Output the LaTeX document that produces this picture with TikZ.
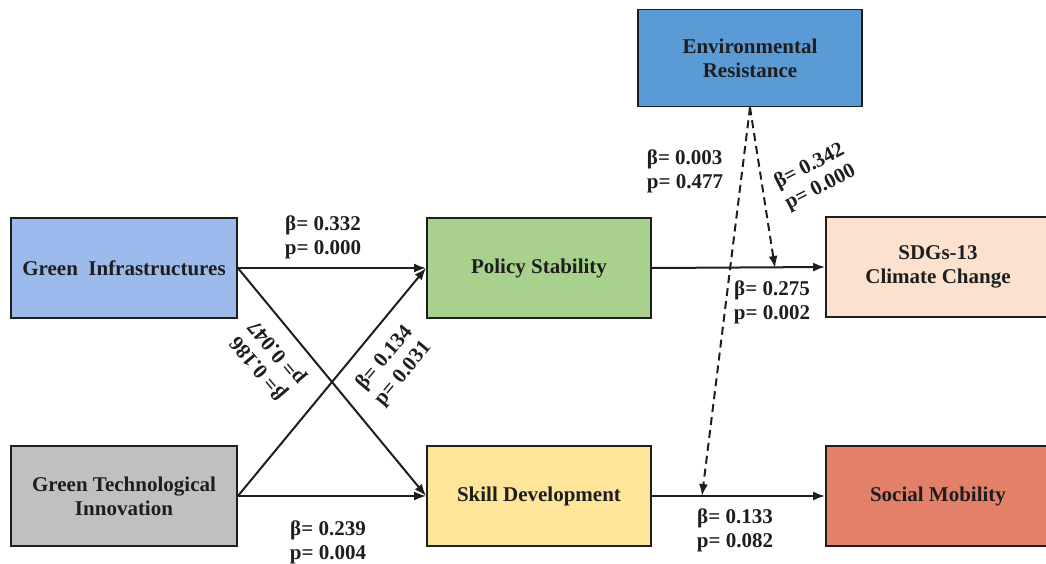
\documentclass[tikz,border=0pt]{standalone}
\usepackage{fontspec}
\setmainfont{Liberation Serif}
\usetikzlibrary{arrows.meta}
\definecolor{gicol}{RGB}{157,186,236}
\definecolor{ercol}{RGB}{91,155,213}
\definecolor{pscol}{RGB}{169,209,142}
\definecolor{sdgcol}{RGB}{252,226,206}
\definecolor{gticol}{RGB}{192,192,192}
\definecolor{sdcol}{RGB}{255,229,153}
\definecolor{smcol}{RGB}{226,128,105}
\definecolor{ink}{RGB}{30,30,30}

\begin{document}
\begin{tikzpicture}[x=1pt,y=-1pt,
  every node/.style={font=\fontsize{21}{24}\selectfont\bfseries,text=ink},
  box/.style={draw=ink,line width=1.8pt,minimum width=224pt,minimum height=100pt,align=center,inner sep=0pt},
  link/.style={-{Latex[length=12pt,width=9pt]},line width=2pt,draw=ink},
  dlink/.style={link,dash pattern=on 8pt off 5pt},
  coef/.style={align=center,inner sep=0pt}]
\useasboundingbox (0,0) rectangle (1046,563);

\node (er)[box,fill=ercol,minimum height=97pt] at (750,58) {Environmental\\Resistance};
\node (gi)[box,fill=gicol,minimum width=226pt] at (124,268) {Green\ \ Infrastructures};
\node (gti)[box,fill=gticol,minimum width=226pt] at (124,496) {Green Technological\\Innovation};
\node (ps)[box,fill=pscol] at (539,268) {Policy Stability};
\node (sd)[box,fill=sdcol] at (539,496) {Skill Development};
\node (sdg)[box,fill=sdgcol] at (938,267) {SDGs-13\\Climate Change};
\node (sm)[box,fill=smcol] at (938,496) {Social Mobility};

\coordinate (m1) at (775,268);
\coordinate (m2) at (702,496);

\draw[link] (gi.east) to (ps.west);
\draw[link] (gi.east) to (sd.west);
\draw[link] (gti.east) to (ps.west);
\draw[link] (gti.east) to (sd.west);
\draw[link] (ps.east) to (sdg.west);
\draw[link] (sd.east) to (sm.west);
\draw[dlink] (er.south) to (m1);
\draw[dlink] (er.south) to (m2);

\node (c1)[coef] at (323,237) {β= 0.332\\p= 0.000};
\node (c2)[coef] at (328,542) {β= 0.239\\p= 0.004};
\node (c3)[coef,rotate=130] at (268,360) {β= 0.186\\p= 0.047};
\node (c4)[coef,rotate=50] at (394,366) {β= 0.134\\p= 0.031};
\node (c5)[coef,align=left] at (685,171) {β= 0.003\\p= 0.477};
\node (c6)[coef,rotate=27] at (815,177) {β= 0.342\\p= 0.000};
\node (c7)[coef] at (772,302) {β= 0.275\\p= 0.002};
\node (c8)[coef] at (735,530) {β= 0.133\\p= 0.082};
\end{tikzpicture}
\end{document}
